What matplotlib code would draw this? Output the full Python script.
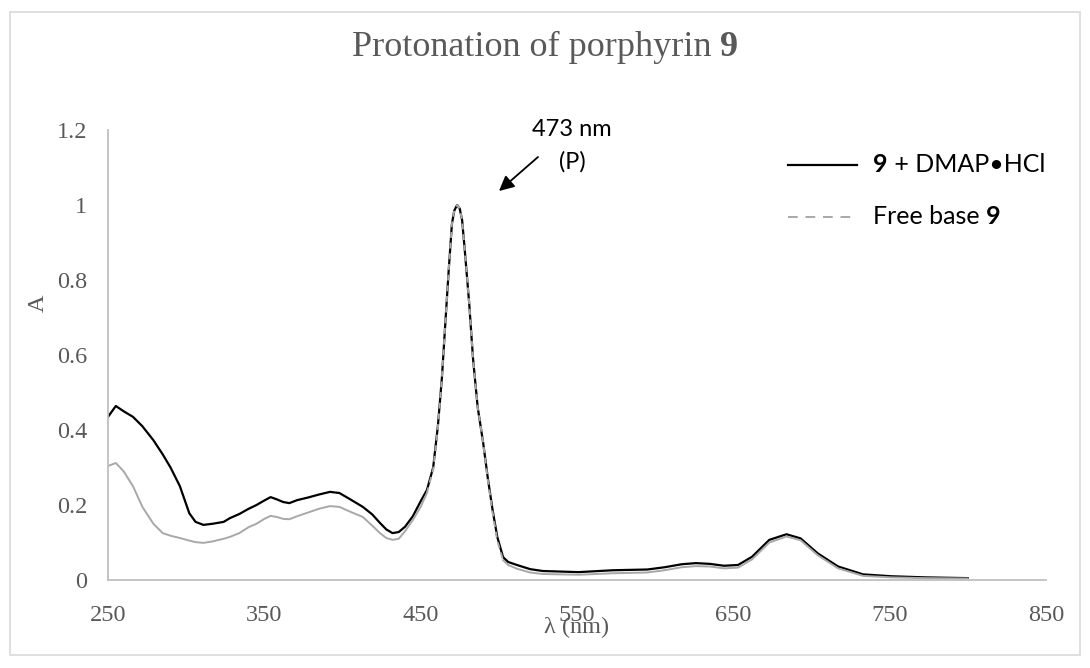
import matplotlib
matplotlib.use("Agg")
import matplotlib.pyplot as plt
from matplotlib.lines import Line2D
from matplotlib.patches import Rectangle

# wavelength grid (nm) and absorbance of the two spectra
wl = [250, 255, 260, 266, 272, 279, 285, 290, 296, 302, 306, 311, 317, 324,
      328, 334, 340, 345, 350, 354, 358, 362, 366, 371, 378, 385, 392, 398,
      405, 413, 419, 424, 428, 432, 436, 440, 445, 450, 454, 458, 461, 463.6,
      466, 468, 470, 471.5, 473.3, 475, 476.5, 478, 481, 483.5, 486.5, 490,
      493, 496, 499, 502.7, 506, 511.6, 520, 528, 551, 573, 595, 606, 617,
      626, 635, 644, 653, 662, 673, 684, 693, 704, 717, 733, 751, 773, 800]

a_dmap = [0.435, 0.464, 0.450, 0.435, 0.410, 0.373, 0.335, 0.300, 0.250, 0.178,
          0.155, 0.147, 0.150, 0.155, 0.165, 0.176, 0.190, 0.200, 0.212, 0.221,
          0.215, 0.208, 0.205, 0.213, 0.220, 0.228, 0.235, 0.232, 0.215, 0.195,
          0.175, 0.152, 0.135, 0.125, 0.128, 0.142, 0.170, 0.210, 0.240, 0.300,
          0.410, 0.540, 0.700, 0.830, 0.950, 0.985, 1.000, 0.990, 0.960, 0.890,
          0.740, 0.590, 0.460, 0.365, 0.270, 0.187, 0.115, 0.061, 0.048, 0.040,
          0.029, 0.024, 0.021, 0.026, 0.028, 0.034, 0.042, 0.045, 0.043, 0.038,
          0.040, 0.062, 0.107, 0.122, 0.111, 0.071, 0.036, 0.015, 0.010, 0.007,
          0.005]

a_free = [0.304, 0.312, 0.290, 0.250, 0.195, 0.150, 0.125, 0.118, 0.112, 0.105,
          0.101, 0.099, 0.103, 0.110, 0.115, 0.125, 0.141, 0.150, 0.163, 0.171,
          0.168, 0.163, 0.162, 0.170, 0.180, 0.190, 0.197, 0.195, 0.182, 0.168,
          0.145, 0.125, 0.112, 0.107, 0.110, 0.130, 0.160, 0.195, 0.232, 0.295,
          0.405, 0.540, 0.700, 0.830, 0.950, 0.985, 1.000, 0.990, 0.960, 0.890,
          0.740, 0.590, 0.460, 0.365, 0.265, 0.180, 0.105, 0.053, 0.040, 0.030,
          0.020, 0.016, 0.014, 0.018, 0.020, 0.026, 0.034, 0.037, 0.036, 0.031,
          0.033, 0.055, 0.100, 0.116, 0.106, 0.066, 0.031, 0.011, 0.007, 0.005,
          0.004]

x_ticks = [250, 350, 450, 550, 650, 750, 850]
y_ticks = [0, 0.2, 0.4, 0.6, 0.8, 1.0, 1.2]
y_tick_labels = ["0", "0.2", "0.4", "0.6", "0.8", "1", "1.2"]

W, H = 1090, 668
serif = "Liberation Serif"
sans = "Lato"
grey_txt = "#595959"
grey_line = "#A8A8A8"

fig = plt.figure(figsize=(W / 100, H / 100), dpi=100)

def fx(px):
    return px / W

def fy(py):
    return 1 - py / H

# chart border
fig.add_artist(Rectangle((fx(10), fy(655)), fx(1070), 643 / H,
                         transform=fig.transFigure, fill=False,
                         edgecolor="#D9D9D9", linewidth=1.2))

ax = fig.add_axes([fx(108), fy(580), fx(1046 - 108), (580 - 130) / H])
ax.plot(wl, a_dmap, color="black", lw=1.6, solid_joinstyle="round")

# the free-base trace looks solid where the points are dense,
# the dash pattern only shows on the steep Soret band
i0, i1 = wl.index(454), wl.index(502.7)
ax.plot(wl[:i0 + 1], a_free[:i0 + 1], color=grey_line, lw=1.4)
ax.plot(wl[i0:i1 + 1], a_free[i0:i1 + 1], color=grey_line, lw=1.4,
        dashes=(3, 2.5))
ax.plot(wl[i1:], a_free[i1:], color=grey_line, lw=1.4)

ax.set_xlim(250, 850)
ax.set_ylim(0, 1.2)
ax.set_xticks(x_ticks)
ax.set_yticks(y_ticks)
ax.set_yticklabels(y_tick_labels)
ax.tick_params(length=0, labelsize=17.5, labelcolor=grey_txt)
ax.tick_params(axis="x", pad=18)
ax.tick_params(axis="y", pad=15)
for lab in ax.get_xticklabels() + ax.get_yticklabels():
    lab.set_fontfamily(serif)
for side in ("top", "right"):
    ax.spines[side].set_visible(False)
for side in ("left", "bottom"):
    ax.spines[side].set_color("#BFBFBF")
    ax.spines[side].set_linewidth(1.3)

fig.text(fx(38), fy(303), "A", rotation=90, ha="center", va="center",
         fontsize=17.5, family=serif, color=grey_txt)
fig.text(fx(577), fy(627), "λ (nm)", ha="center", va="center",
         fontsize=17.5, family=serif, color=grey_txt)

# title with bold compound number
t1 = fig.text(fx(340), fy(56), "Protonation of porphyrin", ha="left",
              va="baseline", fontsize=26, family=serif, color=grey_txt)
t2 = ax.annotate(" 9", xy=(1, 0), xycoords=t1, ha="left", va="bottom",
                 fontsize=26, family=serif, fontweight="bold", color=grey_txt,
                 annotation_clip=False)
fig.canvas.draw()
r = fig.canvas.get_renderer()
b1 = t1.get_window_extent(r)
b2 = t2.get_window_extent(r)
total = b2.x1 - b1.x0
t1.set_x(fx(545 - total / 2))

# peak annotation
ax.annotate("", xy=(fx(499), fy(191)), xycoords="figure fraction",
            xytext=(fx(538), fy(157)), textcoords="figure fraction",
            arrowprops=dict(arrowstyle="-|>,head_length=0.9,head_width=0.45",
                            color="black", lw=1.3, shrinkA=0, shrinkB=0))
fig.text(fx(572), fy(129), "473 nm", ha="center", va="center",
         fontsize=17, family=sans, color="black")
fig.text(fx(572), fy(162), "(P)", ha="center", va="center",
         fontsize=17, family=sans, color="black")

# legend
fig.add_artist(Line2D([fx(788), fx(857)], [fy(165), fy(165)],
                      transform=fig.transFigure, color="black", lw=1.6))
fig.add_artist(Line2D([fx(788), fx(857)], [fy(217), fy(217)],
                      transform=fig.transFigure, color=grey_line, lw=1.4,
                      dashes=(5, 4)))
l1 = fig.text(fx(873), fy(165), "9", ha="left", va="center", fontsize=18,
              family=sans, fontweight="bold", color="black")
ax.annotate(" + DMAP\u2022HCl", xy=(1, 0), xycoords=l1, ha="left",
            va="bottom", fontsize=18, family=sans, color="black",
            annotation_clip=False)
l2 = fig.text(fx(873), fy(217), "Free base", ha="left", va="center",
              fontsize=18, family=sans, color="black")
ax.annotate(" 9", xy=(1, 0), xycoords=l2, ha="left", va="bottom",
            fontsize=18, family=sans, fontweight="bold", color="black",
            annotation_clip=False)

fig.savefig("out.png", dpi=100)
